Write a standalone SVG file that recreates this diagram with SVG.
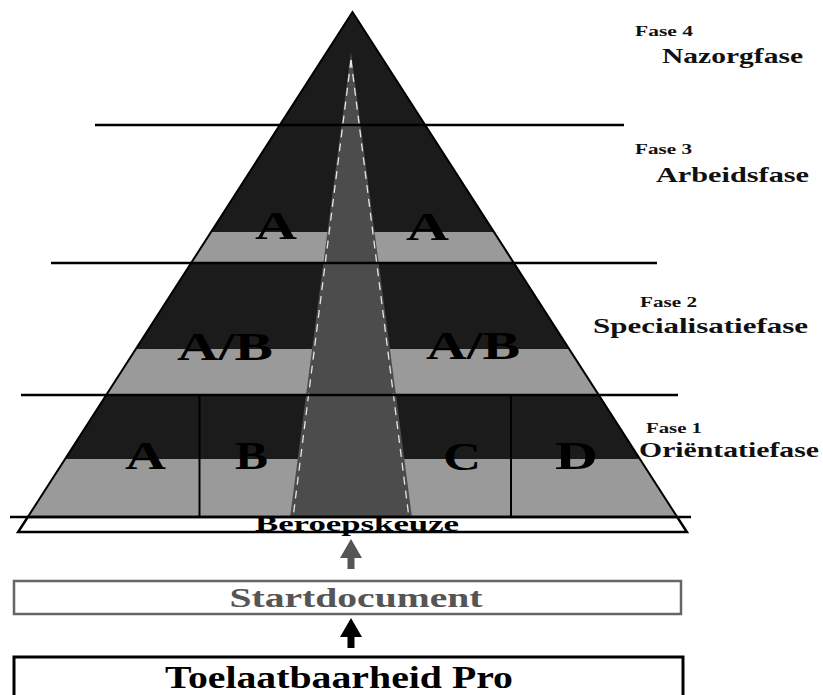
<svg xmlns="http://www.w3.org/2000/svg" width="823" height="695" viewBox="0 0 823 695">
<defs>
<style>
.dark{fill:#1b1b1b}
.band{fill:#9a9a9a}
.road{fill:#4c4c4c}
.dash{stroke:#e6e6e6;stroke-width:1.3;stroke-dasharray:8 6;fill:none}
.hl{stroke:#000;stroke-width:2.5;fill:none}
.vl{stroke:#000;stroke-width:2;fill:none}
.big{font-family:"Liberation Serif","Times New Roman",serif;font-weight:bold;font-size:40px;fill:#000}
.fase{font-family:"Liberation Serif","Times New Roman",serif;font-weight:bold;font-size:15px;fill:#111}
.phase{font-family:"Liberation Serif","Times New Roman",serif;font-weight:bold;font-size:21px;fill:#111}
.box{font-family:"Liberation Serif","Times New Roman",serif;font-weight:bold}
</style>
</defs>
<rect x="0" y="0" width="823" height="695" fill="#fff"/>

<g id="pyramid">
  <polygon class="dark" points="352.5,12 27.8,517 677.2,517"/>
  <polygon class="band" points="211,232 494,232 513.9,263 191.1,263"/>
  <polygon class="band" points="135.8,349 569.2,349 598.8,395 106.2,395"/>
  <polygon class="band" points="65.1,459 639.9,459 677.2,517 27.8,517"/>
  <polygon class="road" points="351,52 411.8,516 290.2,516"/>
  <line class="dash" x1="351" y1="60" x2="293.5" y2="514"/>
  <line class="dash" x1="351" y1="60" x2="408.5" y2="514"/>
  <polygon points="352.5,12 27.8,517 677.2,517" fill="none" stroke="#000" stroke-width="2"/>
  <line class="vl" x1="199.5" y1="395" x2="199.5" y2="517"/>
  <line class="vl" x1="511" y1="395" x2="511" y2="517"/>
</g>

<g id="base">
  <polygon points="27.8,517 677.2,517 686.9,532 18.1,532" fill="#fff" stroke="#000" stroke-width="2.5"/>
  <text class="box" x="255" y="531" font-size="22" textLength="204" lengthAdjust="spacingAndGlyphs" fill="#000">Beroepskeuze</text>
</g>

<g id="dividers">
  <line class="hl" x1="95" y1="125" x2="624" y2="125"/>
  <line class="hl" x1="51" y1="263" x2="657" y2="263"/>
  <line class="hl" x1="21" y1="395" x2="678" y2="395"/>
  <line class="hl" x1="10" y1="517" x2="691" y2="517"/>
</g>

<g id="cell-labels">
  <text class="big" x="255" y="239" textLength="42" lengthAdjust="spacingAndGlyphs">A</text>
  <text class="big" x="406" y="240" textLength="43" lengthAdjust="spacingAndGlyphs">A</text>
  <text class="big" x="177" y="360" textLength="96" lengthAdjust="spacingAndGlyphs">A/B</text>
  <text class="big" x="426" y="359" textLength="94" lengthAdjust="spacingAndGlyphs">A/B</text>
  <text class="big" x="125" y="469" textLength="41" lengthAdjust="spacingAndGlyphs">A</text>
  <text class="big" x="235" y="469" textLength="33" lengthAdjust="spacingAndGlyphs">B</text>
  <text class="big" x="443" y="470" textLength="38" lengthAdjust="spacingAndGlyphs">C</text>
  <text class="big" x="555" y="469" textLength="43" lengthAdjust="spacingAndGlyphs">D</text>
</g>

<g id="fase4">
  <text class="fase" x="635" y="36" textLength="58" lengthAdjust="spacingAndGlyphs">Fase 4</text>
  <text class="phase" x="662" y="63" textLength="141" lengthAdjust="spacingAndGlyphs">Nazorgfase</text>
</g>
<g id="fase3">
  <text class="fase" x="635" y="154" textLength="57" lengthAdjust="spacingAndGlyphs">Fase 3</text>
  <text class="phase" x="656" y="182" textLength="153" lengthAdjust="spacingAndGlyphs">Arbeidsfase</text>
</g>
<g id="fase2">
  <text class="fase" x="640" y="307" textLength="57" lengthAdjust="spacingAndGlyphs">Fase 2</text>
  <text class="phase" x="593" y="333" textLength="215" lengthAdjust="spacingAndGlyphs">Specialisatiefase</text>
</g>
<g id="fase1">
  <text class="fase" x="646" y="433" textLength="56" lengthAdjust="spacingAndGlyphs">Fase 1</text>
  <text class="phase" x="639" y="457" textLength="180" lengthAdjust="spacingAndGlyphs">Oriëntatiefase</text>
</g>

<g id="startdocument">
  <rect x="14" y="581" width="667" height="33" fill="#fff" stroke="#666" stroke-width="2.5"/>
  <text class="box" x="229.5" y="607" font-size="27" textLength="253" lengthAdjust="spacingAndGlyphs" fill="#555">Startdocument</text>
</g>

<g id="toelaatbaarheid">
  <rect x="14" y="657" width="669" height="60" fill="#fff" stroke="#000" stroke-width="3"/>
  <text class="box" x="165" y="688" font-size="32" textLength="348" lengthAdjust="spacingAndGlyphs" fill="#000">Toelaatbaarheid Pro</text>
</g>

<g id="connectors">
  <polygon points="351,539 362,558 340,558" fill="#555"/>
  <rect x="347.5" y="557" width="7" height="12" fill="#555"/>
  <polygon points="351,618 362,637 340,637" fill="#000"/>
  <rect x="347.5" y="636" width="7" height="12" fill="#000"/>
</g>
</svg>
